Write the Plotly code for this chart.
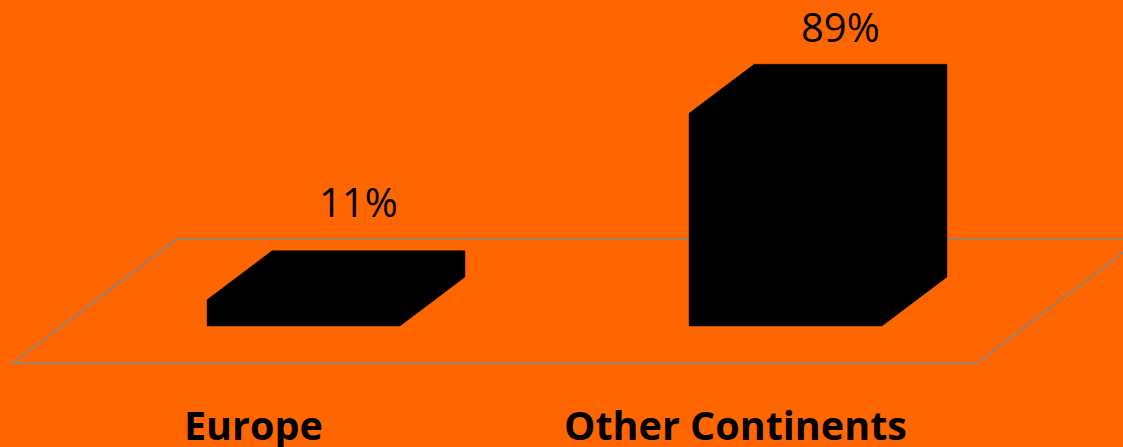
import plotly.graph_objects as go

# ---- data ----
categories = ["Europe", "Other Continents"]
shares = [11, 89]
value_labels = ["11%", "89%"]

# ---- style / geometry (axis units) ----
BG = "#FF6600"
BAR_COLOR = "#000000"
FLOOR_COLOR = "#848484"
BAR_W = 0.40
DEPTH_X = 0.135
DEPTH_Y = 20.5
FLOOR_LEFT, FLOOR_RIGHT = -0.6027, 1.3973
FLOOR_FRONT, FLOOR_BACK = -15.5, 36.4
FLOOR_SHIFT = 0.34
LABEL_LIFT = [20.4, 15.7]
LABEL_DX = -0.02
CAT_DX = -0.104
CAT_Y = -41.4

fig = go.Figure()

# floor
fx = [FLOOR_LEFT, FLOOR_RIGHT, FLOOR_RIGHT + FLOOR_SHIFT, FLOOR_LEFT + FLOOR_SHIFT, FLOOR_LEFT]
fy = [FLOOR_FRONT, FLOOR_FRONT, FLOOR_BACK, FLOOR_BACK, FLOOR_FRONT]
fig.add_trace(go.Scatter(x=fx, y=fy, mode="lines", line=dict(color=FLOOR_COLOR, width=1.6),
                         hoverinfo="skip", showlegend=False))

# 3D bars
for i, (cat, v) in enumerate(zip(categories, shares)):
    l, r = i - BAR_W / 2, i + BAR_W / 2
    xs = [l, r, r + DEPTH_X, r + DEPTH_X, l + DEPTH_X, l, l]
    ys = [0, 0, DEPTH_Y, v + DEPTH_Y, v + DEPTH_Y, v, 0]
    fig.add_trace(go.Scatter(x=xs, y=ys, mode="lines", fill="toself", fillcolor=BAR_COLOR,
                             line=dict(color=BAR_COLOR, width=0.5), name=cat,
                             hoverinfo="skip", showlegend=False))
    fig.add_annotation(x=i + DEPTH_X + LABEL_DX, y=v + DEPTH_Y + LABEL_LIFT[i],
                       text=value_labels[i], showarrow=False, xanchor="center", yanchor="middle",
                       font=dict(family="Open Sans", size=40, color="#000000"))
    fig.add_annotation(x=i + CAT_DX, y=CAT_Y, text="<b>" + cat + "</b>", showarrow=False,
                       xanchor="center", yanchor="middle",
                       font=dict(family="Open Sans", size=39.5, color="#000000"))

fig.update_layout(
    width=1123, height=447,
    margin=dict(l=0, r=0, t=0, b=0),
    paper_bgcolor=BG, plot_bgcolor=BG,
    xaxis=dict(range=[-303.5 / 482, (1123 - 303.5) / 482], visible=False, fixedrange=True),
    yaxis=dict(range=[(326 - 447) / 2.39, 326 / 2.39], visible=False, fixedrange=True),
)

fig.write_html("out.html", config={"displayModeBar": False},
               post_script="document.body.style.margin='0';document.body.style.overflow='hidden';"
                           "document.body.style.background='#FF6600';")
